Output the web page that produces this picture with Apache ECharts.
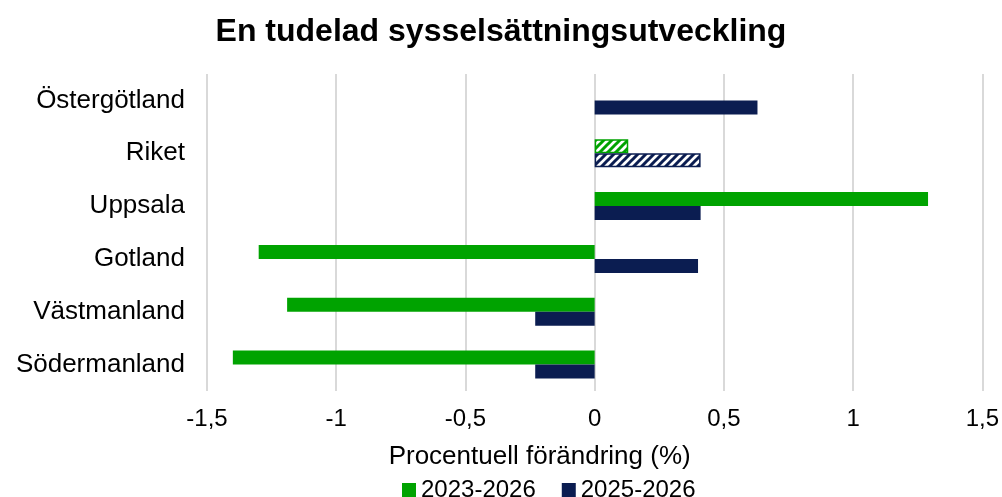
<!DOCTYPE html>
<html>
<head>
<meta charset="utf-8">
<script src="https://cdn.jsdelivr.net/npm/echarts@6/dist/echarts.min.js"></script>
<style>
  html, body { margin: 0; padding: 0; background: #fff; }
  #chart { width: 1002px; height: 497px; }
</style>
</head>
<body>
<div id="chart"></div>
<script>
var categories = ['Östergötland', 'Riket', 'Uppsala', 'Gotland', 'Västmanland', 'Södermanland'];
var seriesNames = ['2023-2026', '2025-2026'];
var values2326 = [0, 0.13, 1.29, -1.30, -1.19, -1.40];
var values2526 = [0.63, 0.41, 0.41, 0.40, -0.23, -0.23];
var hatchedCategory = 'Riket';

var green = '#00a300';
var navy = '#0b1d51';
var font = 'Liberation Sans, Arial';

function stripes(color) {
  var c = document.createElement('canvas');
  c.width = 8; c.height = 8;
  var ctx = c.getContext('2d');
  ctx.fillStyle = '#fff';
  ctx.fillRect(0, 0, 8, 8);
  ctx.strokeStyle = color;
  ctx.lineWidth = 3;
  ctx.beginPath();
  ctx.moveTo(-2, 10); ctx.lineTo(10, -2);
  ctx.moveTo(-6, 6); ctx.lineTo(6, -6);
  ctx.moveTo(2, 14); ctx.lineTo(14, 2);
  ctx.stroke();
  return c;
}

function toData(vals, color) {
  return vals.map(function(v, i) {
    if (categories[i] === hatchedCategory) {
      return {
        value: v,
        itemStyle: { color: { image: stripes(color), repeat: 'repeat' }, borderColor: color, borderWidth: 1.5 }
      };
    }
    return v;
  });
}

var chart = echarts.init(document.getElementById('chart'));
chart.setOption({
  animation: false,
  title: {
    text: 'En tudelad sysselsättningsutveckling',
    left: 'center',
    top: 11,
    textStyle: { fontFamily: font, fontSize: 32, fontWeight: 'bold', color: '#000' }
  },
  legend: {
    bottom: -10,
    left: 397,
    icon: 'rect',
    itemWidth: 14,
    itemHeight: 14,
    itemGap: 26,
    textStyle: { fontFamily: font, fontSize: 24, color: '#000' },
    data: seriesNames
  },
  grid: { left: 207, right: 19, top: 74, bottom: 106 },
  xAxis: {
    type: 'value',
    min: -1.5,
    max: 1.5,
    interval: 0.5,
    name: 'Procentuell förändring (%)',
    nameLocation: 'middle',
    nameGap: 53,
    nameTextStyle: { fontFamily: font, fontSize: 26, color: '#000', padding: [0, 110, 0, 0] },
    axisLabel: {
      fontFamily: font, fontSize: 24, color: '#000', margin: 16,
      formatter: function(v) { return String(Math.round(v * 10) / 10).replace('.', ','); }
    },
    axisLine: { show: false },
    axisTick: { show: false },
    splitLine: { lineStyle: { color: '#d9d9d9', width: 2 } }
  },
  yAxis: {
    type: 'category',
    inverse: true,
    data: categories,
    axisLabel: { fontFamily: font, fontSize: 26, color: '#000', margin: 22 },
    axisLine: { show: false },
    axisTick: { show: false }
  },
  series: [
    {
      name: seriesNames[0],
      type: 'bar',
      barWidth: 14,
      barGap: '0%',
      itemStyle: { color: green },
      data: toData(values2326, green)
    },
    {
      name: seriesNames[1],
      type: 'bar',
      barWidth: 14,
      barGap: '0%',
      itemStyle: { color: navy },
      data: toData(values2526, navy)
    }
  ]
});
</script>
</body>
</html>
